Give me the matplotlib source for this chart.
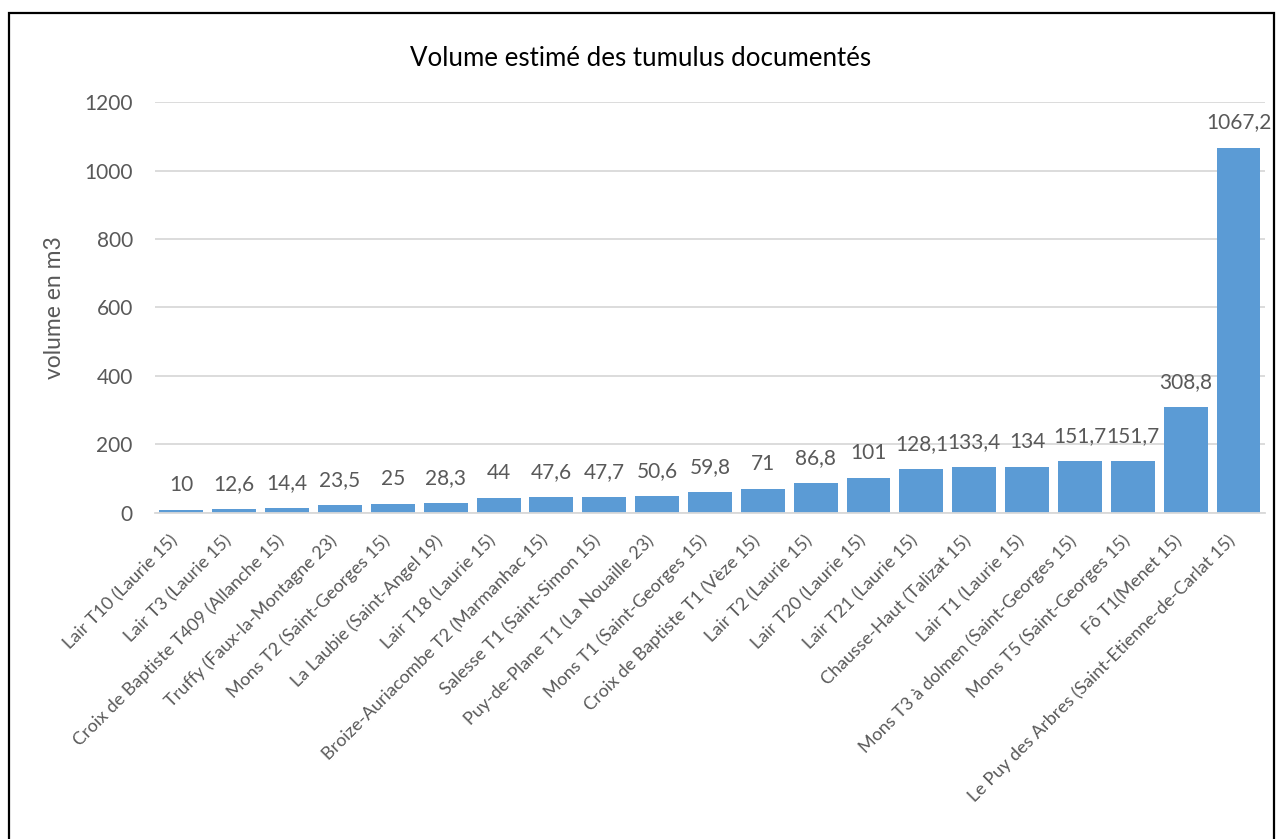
import matplotlib

matplotlib.use("Agg")
import matplotlib.pyplot as plt
from matplotlib.patches import Rectangle

# data
sites = [
    "Lair T10 (Laurie 15)",
    "Lair T3 (Laurie 15)",
    "Croix de Baptiste T409 (Allanche 15)",
    "Truffy (Faux-la-Montagne 23)",
    "Mons T2 (Saint-Georges 15)",
    "La Laubie (Saint-Angel 19)",
    "Lair T18 (Laurie 15)",
    "Broize-Auriacombe T2 (Marmanhac 15)",
    "Salesse T1 (Saint-Simon 15)",
    "Puy-de-Plane T1 (La Nouaille 23)",
    "Mons T1 (Saint-Georges 15)",
    "Croix de Baptiste T1 (Vèze 15)",
    "Lair T2 (Laurie 15)",
    "Lair T20 (Laurie 15)",
    "Lair T21 (Laurie 15)",
    "Chausse-Haut (Talizat 15)",
    "Lair T1 (Laurie 15)",
    "Mons T3 à dolmen (Saint-Georges 15)",
    "Mons T5 (Saint-Georges 15)",
    "Fô T1(Menet 15)",
    "Le Puy des Arbres (Saint-Etienne-de-Carlat 15)",
]
volumes = [10, 12.6, 14.4, 23.5, 25, 28.3, 44, 47.6, 47.7, 50.6, 59.8,
           71, 86.8, 101, 128.1, 133.4, 134, 151.7, 151.7, 308.8, 1067.2]
y_ticks = [0, 200, 400, 600, 800, 1000, 1200]

BAR_COLOR = "#5B9BD5"
TEXT_COLOR = "#595959"
GRID_COLOR = "#D9D9D9"

plt.rcParams["font.family"] = ["Lato", "DejaVu Sans"]

fig = plt.figure(figsize=(12.81, 8.39), dpi=100)
ax = fig.add_axes([0.121, 0.3886, 0.8665, 0.4898])

x = list(range(len(sites)))
ax.bar(x, volumes, width=0.83, color=BAR_COLOR, zorder=2)

for xi, v in zip(x, volumes):
    txt = f"{v:g}".replace(".", ",")
    ax.annotate(txt, (xi, v), xytext=(0, 18), textcoords="offset points",
                ha="center", va="center", fontsize=15, color=TEXT_COLOR)

ax.set_xlim(-0.5, len(sites) - 0.5)
ax.set_ylim(0, 1200)
ax.set_yticks(y_ticks)
ax.set_yticklabels([str(t) for t in y_ticks], fontsize=15, color=TEXT_COLOR)
ax.set_xticks(x)
ax.set_xticklabels(sites, rotation=45, ha="right", fontsize=13,
                   color=TEXT_COLOR)
ax.tick_params(axis="x", length=0, pad=14)
ax.tick_params(axis="y", length=0, pad=16)

ax.grid(axis="y", color=GRID_COLOR, linewidth=1.3, zorder=0)
for side in ["top", "right", "left"]:
    ax.spines[side].set_visible(False)
ax.spines["bottom"].set_color(GRID_COLOR)
ax.spines["bottom"].set_linewidth(1.3)

ax.set_ylabel("volume en m3", fontsize=16.5, color=TEXT_COLOR, labelpad=14)
fig.text(0.5, 0.93, "Volume estimé des tumulus documentés",
         ha="center", va="center", fontsize=18.6, color="#000000")

# outer chart frame (bottom edge lies below the picture)
fig.patches.append(Rectangle((9 / 1281, -0.05), 1265 / 1281, 1 - 13 / 839 + 0.05,
                             transform=fig.transFigure, fill=False,
                             edgecolor="black", linewidth=1.6))

fig.savefig("out.png", dpi=100)
